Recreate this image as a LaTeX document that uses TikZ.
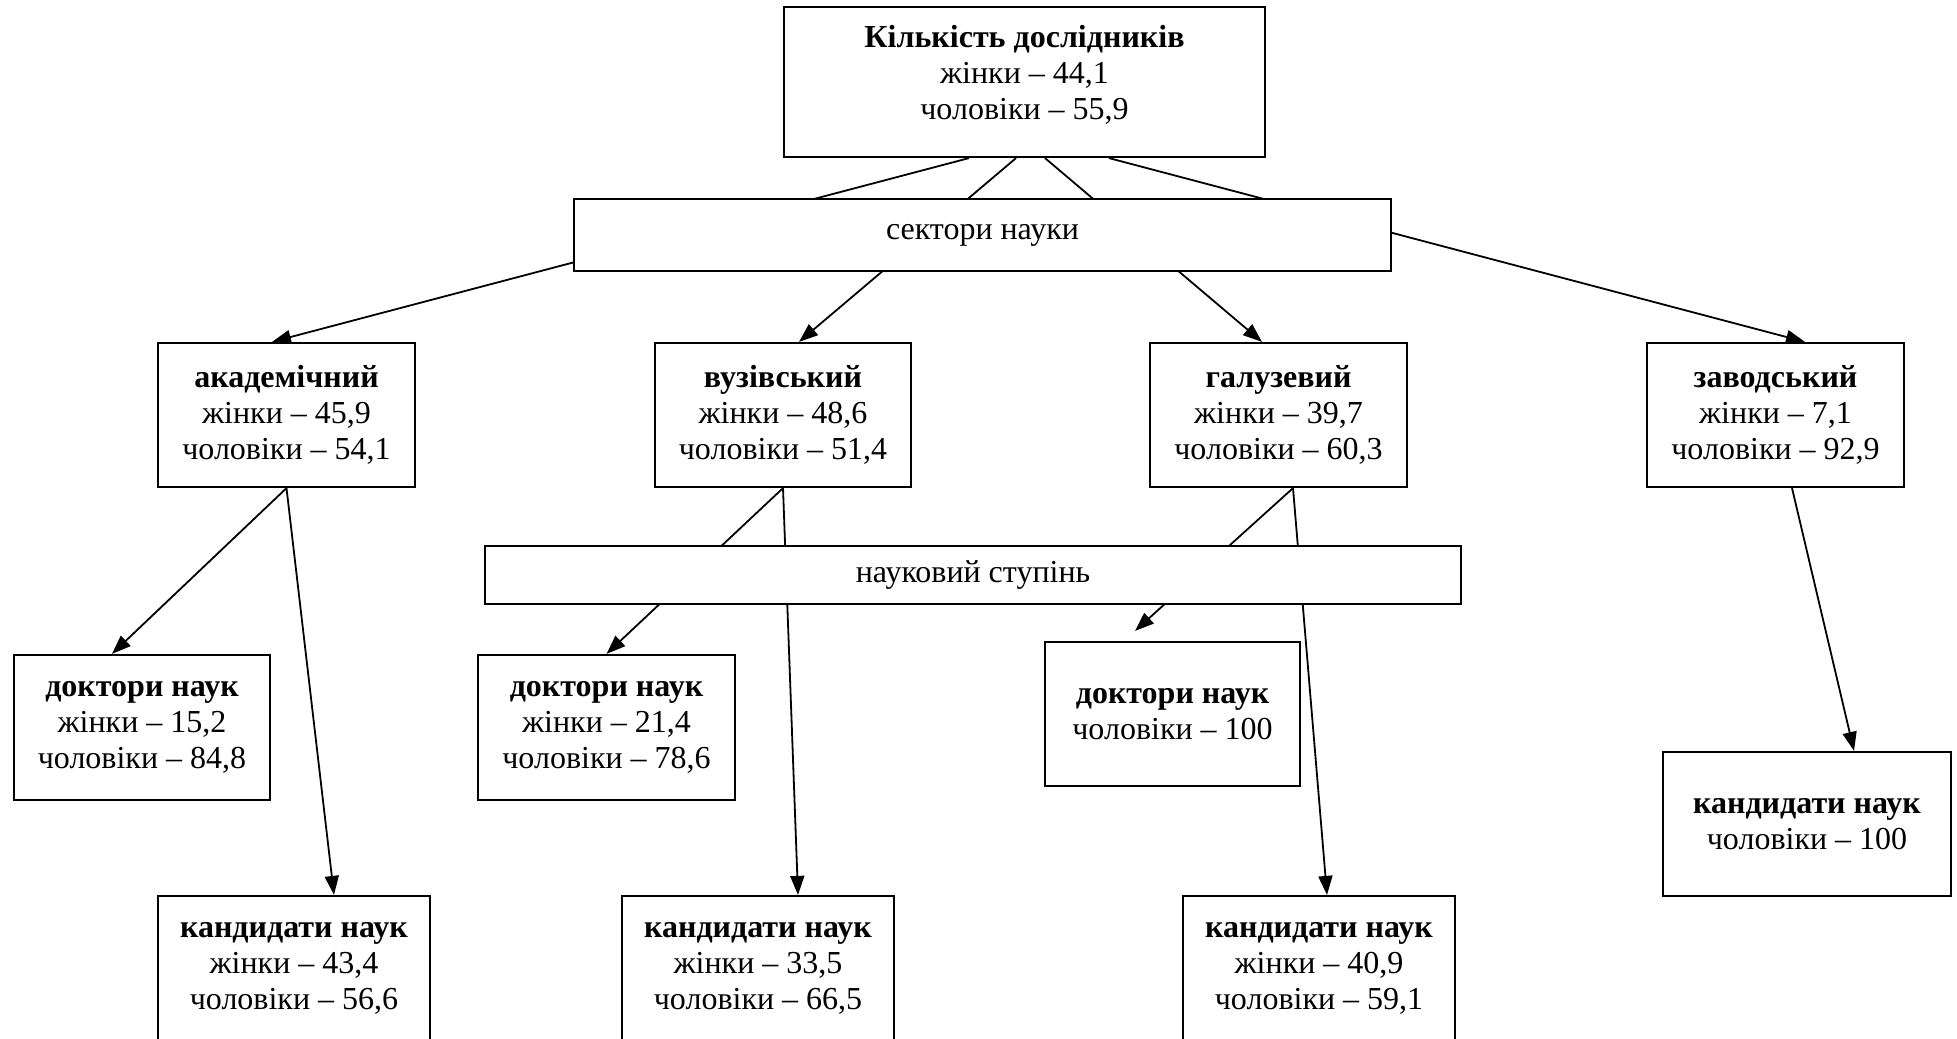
\documentclass[tikz,border=0pt]{standalone}
\usepackage{fontspec}
\setmainfont{Liberation Serif}
\usetikzlibrary{calc,arrows.meta,backgrounds}
\begin{document}
\begin{tikzpicture}[x=0.5pt,y=-0.5pt,
  box/.style={draw, line width=1.1pt, fill=white, inner sep=0pt, align=center, font=\fontsize{16}{18}\selectfont},
  txt/.style={inner sep=0pt, align=center, font=\fontsize{16}{18}\selectfont},
  conn/.style={line width=0.9pt},
  arr/.style={conn, -{Triangle[length=9.5pt,width=7pt]}}]
\useasboundingbox (0,0) rectangle (1957,1038);

% boxes
\node[box, minimum width=240.5pt, minimum height=75pt] (top) at (1024.5,82) {};
\node[txt] (toptext) at (1024.5,75) {\textbf{Кількість дослідників}\\жінки – 44,1\\чоловіки – 55,9};
\node[box, minimum width=408.5pt, minimum height=36pt] (sector) at (982.5,235) {сектори науки};

\node[box, minimum width=128.5pt, minimum height=72pt] (akad) at (286.5,415) {\textbf{академічний}\\жінки – 45,9\\чоловіки – 54,1};
\node[box, minimum width=128pt, minimum height=72pt] (vuz) at (783,415) {\textbf{вузівський}\\жінки – 48,6\\чоловіки – 51,4};
\node[box, minimum width=128.5pt, minimum height=72pt] (galuz) at (1278.5,415) {\textbf{галузевий}\\жінки – 39,7\\чоловіки – 60,3};
\node[box, minimum width=128.5pt, minimum height=72pt] (zavod) at (1775.5,415) {\textbf{заводський}\\жінки – 7,1\\чоловіки – 92,9};

\node[box, minimum width=488pt, minimum height=29pt] (nauk) at (973,575) {науковий ступінь};

\node[box, minimum width=128pt, minimum height=72.5pt] (dA) at (142,727.5) {\textbf{доктори наук}\\жінки – 15,2\\чоловіки – 84,8};
\node[box, minimum width=128.5pt, minimum height=72.5pt] (dV) at (606.5,727.5) {\textbf{доктори наук}\\жінки – 21,4\\чоловіки – 78,6};
\node[box, minimum width=127.5pt, minimum height=72pt] (dG) at (1172.5,714) {\textbf{доктори наук}\\чоловіки – 100};

\node[box, minimum width=136pt, minimum height=72.5pt] (kA) at (294,968.5) {\textbf{кандидати наук}\\жінки – 43,4\\чоловіки – 56,6};
\node[box, minimum width=136pt, minimum height=72.5pt] (kV) at (758,968.5) {\textbf{кандидати наук}\\жінки – 33,5\\чоловіки – 66,5};
\node[box, minimum width=136pt, minimum height=72.5pt] (kG) at (1319,968.5) {\textbf{кандидати наук}\\жінки – 40,9\\чоловіки – 59,1};
\node[box, minimum width=144pt, minimum height=72pt] (kZ) at (1807,824) {\textbf{кандидати наук}\\чоловіки – 100};

% connectors (behind the boxes)
\begin{pgfonlayer}{background}
\draw[arr] ($(top.south)+(-55.5,0)$) -- ($(akad.north)+(-14.5,0)$);
\draw[arr] ($(top.south)+(-8.5,0)$) -- ($(vuz.north)+(16,0)$);
\draw[arr] ($(top.south)+(20.5,0)$) -- ($(galuz.north)+(-16.5,0)$);
\draw[arr] ($(top.south)+(84.5,0)$) -- ($(zavod.north)+(29.5,0)$);

\draw[arr] (akad.south) -- ($(dA.north)+(-30,0)$);
\draw[arr] (akad.south) -- ($(kA.north)+(40,0)$);

\draw[arr] (vuz.south) -- (dV.north);
\draw[arr] (vuz.south) -- ($(kV.north)+(40,0)$);

\draw[arr] ($(galuz.south)+(14.5,0)$) -- ($(dG.north)+(-37.5,-10)$);
\draw[arr] ($(galuz.south)+(14.5,0)$) -- ($(kG.north)+(8,0)$);

\draw[arr] ($(zavod.south)+(16.5,0)$) -- ($(kZ.north)+(47,0)$);
\end{pgfonlayer}
\end{tikzpicture}
\end{document}
